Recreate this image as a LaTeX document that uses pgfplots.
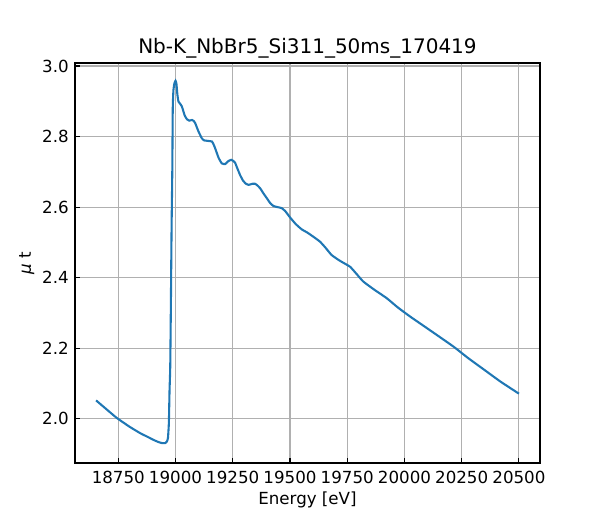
\documentclass[border=0pt]{standalone}
\usepackage{fontspec}
\setmainfont{DejaVu Sans}
\usepackage{pgfplots}
\pgfplotsset{compat=1.18}
\definecolor{mplblue}{HTML}{1F77B4}
\definecolor{gridgray}{HTML}{B0B0B0}
\begin{document}
\begin{tikzpicture}
\path[use as bounding box] (-54pt,-41.04pt) rectangle (378pt,333.36pt);
\begin{axis}[
  at={(0,0)}, anchor=south west,
  scale only axis,
  width=334.8pt, height=288pt,
  xmin=18561, xmax=20592,
  ymin=1.8745, ymax=3.0085,
  xtick={18750,19000,19250,19500,19750,20000,20250,20500},
  ytick={2.0,2.2,2.4,2.6,2.8,3.0},
  yticklabel style={/pgf/number format/fixed, /pgf/number format/fixed zerofill, /pgf/number format/precision=1, xshift=-1pt},
  xticklabel style={/pgf/number format/1000 sep={}, yshift=-2.5pt},
  /pgf/number format/assume math mode=true,
  scaled x ticks=false,
  tick align=inside,
  xtick pos=bottom, ytick pos=left,
  major tick length=3.5pt,
  tick style={black, line width=0.8pt},
  axis line style={line width=0.8pt},
  grid=major,
  major grid style={gridgray, line width=0.8pt},
  ticklabel style={font=\fontsize{12}{14}\selectfont},
  xlabel={Energy [eV]},
  ylabel={{\itshape μ} t},
  label style={font=\fontsize{12}{14}\selectfont},
  xlabel style={at={(axis description cs:0.5,-0.105)}, anchor=base},
  ylabel style={at={(axis description cs:-0.0947,0.5)}, anchor=base},
  title={Nb-K\_NbBr5\_Si311\_50ms\_170419},
  title style={font=\fontsize{14.4}{17}\selectfont, at={(axis description cs:0.5,1)}, anchor=base, yshift=0.5pt},
]
\addplot[mplblue, line width=1.5pt, smooth, tension=0.3] coordinates {
(18653,2.052) (18700,2.026) (18744,2.002) (18800,1.977) (18846,1.959)
(18880,1.948) (18904,1.940) (18925,1.934) (18941,1.931) (18955,1.931)
(18962,1.935) (18967,1.945) (18971,1.988) (18974,2.082) (18977,2.148)
(18980,2.337) (18983,2.55) (18986,2.705) (18988,2.88) (18991,2.932)
(18995,2.950) (19000,2.958) (19004,2.950) (19008,2.92) (19013,2.899)
(19020,2.893) (19028,2.885) (19040,2.86) (19050,2.849) (19060,2.845)
(19072,2.847) (19080,2.844) (19086,2.838) (19100,2.815) (19115,2.795)
(19125,2.789) (19137,2.788) (19150,2.787) (19159,2.786) (19166,2.778)
(19173,2.767) (19188,2.740) (19202,2.724) (19217,2.722) (19230,2.730)
(19243,2.734) (19252,2.731) (19260,2.726) (19270,2.710) (19282,2.691)
(19295,2.675) (19308,2.666) (19320,2.663) (19335,2.666) (19348,2.666)
(19360,2.660) (19370,2.653) (19385,2.638) (19399,2.625) (19414,2.611)
(19428,2.603) (19445,2.600) (19464,2.597) (19480,2.588) (19500,2.571)
(19525,2.552) (19551,2.537) (19575,2.528) (19602,2.516) (19631,2.502)
(19655,2.485) (19682,2.464) (19720,2.447) (19762,2.431) (19790,2.411)
(19820,2.389) (19870,2.365) (19922,2.342) (19970,2.316) (20024,2.290)
(20100,2.256) (20213,2.205) (20278,2.172) (20350,2.138) (20420,2.105)
(20500,2.071)
};
\end{axis}
\end{tikzpicture}
\end{document}
